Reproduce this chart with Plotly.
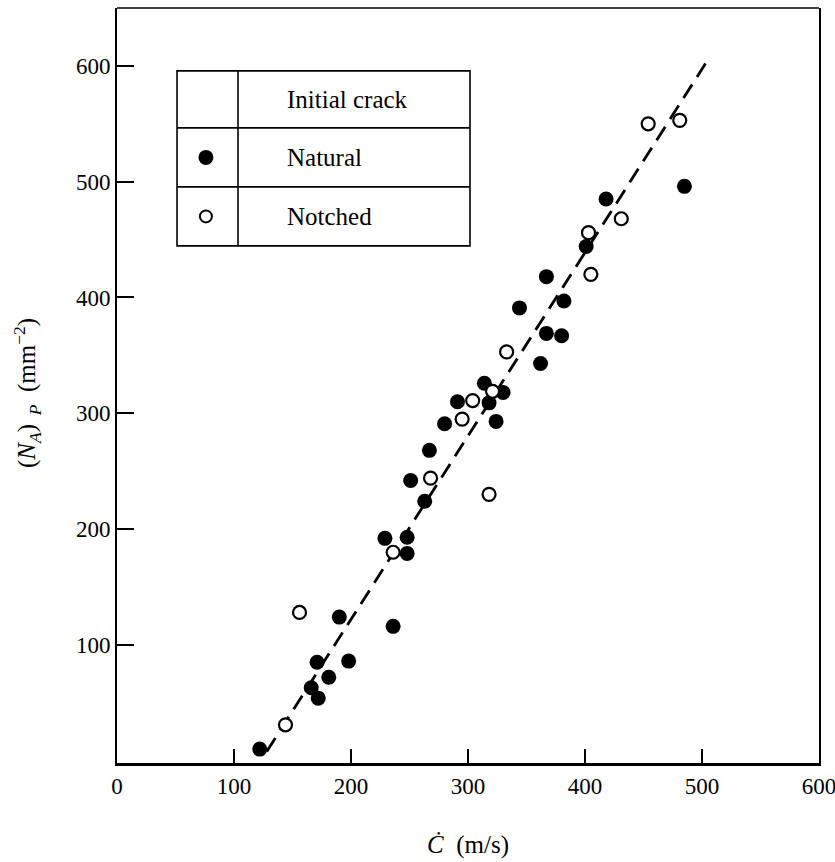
import plotly.graph_objects as go

# ---- data ----
natural_x = [122, 166, 171, 172, 181, 190, 198, 229, 236, 248, 248, 251, 263, 267,
             280, 291, 314, 318, 324, 330, 344, 362, 367, 367, 380, 382, 401, 418, 485]
natural_y = [10, 63, 85, 54, 72, 124, 86, 192, 116, 193, 179, 242, 224, 268,
             291, 310, 326, 309, 293, 318, 391, 343, 418, 369, 367, 397, 444, 485, 496]
notched_x = [144, 156, 236, 268, 295, 304, 318, 321, 333, 403, 405, 431, 454, 481]
notched_y = [31, 128, 180, 244, 295, 311, 230, 319, 353, 456, 420, 468, 550, 553]
fit_x = [128, 503]
fit_y = [8, 602]

x_ticks = [0, 100, 200, 300, 400, 500, 600]
y_ticks = [100, 200, 300, 400, 500, 600]
legend_header = "Initial crack"
legend_labels = ["Natural", "Notched"]

FONT = "Liberation Serif, Times New Roman, serif"

fig = go.Figure()

fig.add_trace(go.Scatter(
    x=fit_x, y=fit_y, mode="lines",
    line=dict(color="black", width=2.8, dash="16px,9px"),
    showlegend=False, hoverinfo="skip"))

fig.add_trace(go.Scatter(
    x=natural_x, y=natural_y, mode="markers",
    marker=dict(symbol="circle", size=15, color="black",
                line=dict(color="black", width=0)),
    showlegend=False))

fig.add_trace(go.Scatter(
    x=notched_x, y=notched_y, mode="markers",
    marker=dict(symbol="circle", size=13, color="white",
                line=dict(color="black", width=2.2)),
    showlegend=False))

# ---- legend table (drawn) ----
tx0, tx1, tdiv = 51.3, 301.7, 103.4
ty = [595.7, 546.5, 495.5, 444.6]
shapes = [
    dict(type="rect", xref="x", yref="y", x0=tx0, x1=tx1, y0=ty[3], y1=ty[0],
         line=dict(color="black", width=1.6)),
    dict(type="line", xref="x", yref="y", x0=tdiv, x1=tdiv, y0=ty[3], y1=ty[0],
         line=dict(color="black", width=1.6)),
    dict(type="line", xref="x", yref="y", x0=tx0, x1=tx1, y0=ty[1], y1=ty[1],
         line=dict(color="black", width=1.6)),
    dict(type="line", xref="x", yref="y", x0=tx0, x1=tx1, y0=ty[2], y1=ty[2],
         line=dict(color="black", width=1.6)),
    # legend symbols
    dict(type="circle", xref="x", yref="y", xsizemode="pixel", ysizemode="pixel",
         xanchor=76, yanchor=(ty[1] + ty[2]) / 2, x0=-7.5, x1=7.5, y0=-7.5, y1=7.5,
         fillcolor="black", line=dict(color="black", width=0)),
    dict(type="circle", xref="x", yref="y", xsizemode="pixel", ysizemode="pixel",
         xanchor=76, yanchor=(ty[2] + ty[3]) / 2, x0=-6, x1=6, y0=-6, y1=6,
         fillcolor="white", line=dict(color="black", width=2)),
    # top frame line
    dict(type="line", xref="paper", yref="paper", x0=0, x1=1, y0=1, y1=1,
         line=dict(color="black", width=1.6)),
]

text_x = 143.6
LEG_SIZE = 25
annotations = [
    dict(x=text_x, y=(ty[0] + ty[1]) / 2, xref="x", yref="y", text=legend_header,
         showarrow=False, xanchor="left", yanchor="middle",
         font=dict(family=FONT, size=LEG_SIZE, color="black")),
    dict(x=text_x, y=(ty[1] + ty[2]) / 2, xref="x", yref="y", text=legend_labels[0],
         showarrow=False, xanchor="left", yanchor="middle",
         font=dict(family=FONT, size=LEG_SIZE, color="black")),
    dict(x=text_x, y=(ty[2] + ty[3]) / 2, xref="x", yref="y", text=legend_labels[1],
         showarrow=False, xanchor="left", yanchor="middle",
         font=dict(family=FONT, size=LEG_SIZE, color="black")),
    # axis titles
    dict(x=0.5, y=0, xref="paper", yref="paper", yshift=-82, text="<i>Ċ</i>  (m/s)",
         showarrow=False, xanchor="center", yanchor="middle",
         font=dict(family=FONT, size=25, color="black")),
    dict(x=0, y=0.49, xref="paper", yref="paper", xshift=-90,
         text="(<i>N<sub>A</sub></i>)<sub>  <i>P</i></sub>  (mm<sup>−2</sup>)",
         textangle=-90, showarrow=False, xanchor="center", yanchor="middle",
         font=dict(family=FONT, size=25, color="black")),
]

fig.update_layout(
    width=835, height=862,
    margin=dict(l=117, r=16, t=8, b=99),
    paper_bgcolor="white", plot_bgcolor="white",
    font=dict(family=FONT, size=22, color="black"),
    shapes=shapes, annotations=annotations,
    showlegend=False,
)

fig.update_xaxes(
    range=[0, 600], tickvals=x_ticks, ticktext=[str(v) for v in x_ticks],
    showgrid=False, zeroline=False,
    showline=True, linecolor="black", linewidth=3, mirror=False,
    ticks="inside", ticklen=14, tickwidth=1.5, tickcolor="black",
    tickfont=dict(family=FONT, size=23, color="black"),
    ticklabeloverflow="allow", automargin=False,
)
fig.update_yaxes(
    range=[-2, 650], tickvals=y_ticks, ticktext=[str(v) for v in y_ticks],
    showgrid=False, zeroline=False,
    showline=True, linecolor="black", linewidth=1.6, mirror=True,
    ticks="inside", ticklen=17, tickwidth=1.5, tickcolor="black",
    tickfont=dict(family=FONT, size=23, color="black"),
    automargin=False,
)

fig.write_html("out.html")
